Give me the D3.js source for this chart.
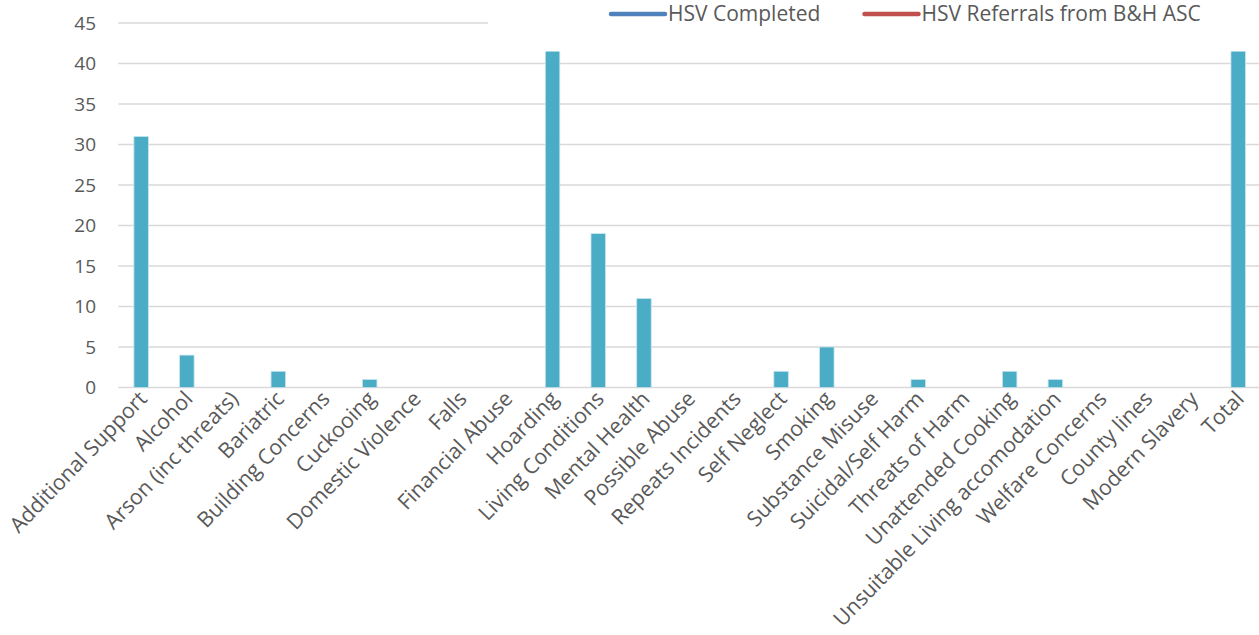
<!DOCTYPE html>
<html>
<head>
<meta charset="utf-8">
<script src="https://cdn.jsdelivr.net/npm/d3@7"></script>
<style>
  html, body { margin: 0; padding: 0; background: #fff; }
  svg { display: block; }
  text { font-family: "Open Sans", "Noto Sans", sans-serif; fill: #595959; }
</style>
</head>
<body>
<svg id="chart" width="1259" height="635"></svg>
<script>
// Incident categories on the x axis
const categories = [
  "Additional Support", "Alcohol", "Arson (inc threats)", "Bariatric",
  "Building Concerns", "Cuckooing", "Domestic Violence", "Falls",
  "Financial Abuse", "Hoarding", "Living Conditions", "Mental Health",
  "Possible Abuse", "Repeats Incidents", "Self Neglect", "Smoking",
  "Substance Misuse", "Suicidal/Self Harm", "Threats of Harm",
  "Unattended Cooking", "Unsuitable Living accomodation", "Welfare Concerns",
  "County lines", "Modern Slavery", "Total"
];

// Count per category (bars)
const counts = [31, 4, 0, 2, 0, 1, 0, 0, 0, 42, 19, 11, 0, 0, 2, 5, 0, 1, 0, 2, 1, 0, 0, 0, 121];

// Line series shown in the legend
const legendNames = ["HSV Completed", "HSV Referrals from B&H ASC"];
const legendColors = ["#4f81bd", "#c0504d"];

// Value axis ticks
const yTicks = [0, 5, 10, 15, 20, 25, 30, 35, 40, 45];

const svg = d3.select("#chart");
const margin = { left: 118.3, top: 23, bottom: 387.5 };
const step = 45.71;

const x = d3.scaleBand()
  .domain(categories)
  .range([margin.left, margin.left + step * categories.length])
  .paddingInner(0)
  .paddingOuter(0);

const y = d3.scaleLinear().domain([0, 45]).range([margin.bottom, margin.top]);

// Plot clip so values above the axis maximum are cut at the top
svg.append("clipPath").attr("id", "plot-clip")
  .append("rect")
  .attr("x", margin.left).attr("y", margin.top)
  .attr("width", 1259 - margin.left).attr("height", margin.bottom - margin.top);

// Gridlines
svg.append("g")
  .selectAll("line")
  .data(yTicks)
  .join("line")
  .attr("x1", margin.left)
  .attr("x2", 1259)
  .attr("y1", d => y(d))
  .attr("y2", d => y(d))
  .attr("stroke", "#d9d9d9")
  .attr("stroke-width", 1.5);

// Y tick labels
const yAxis = d3.axisLeft(y).tickValues(yTicks).tickSize(0).tickPadding(0);
const yg = svg.append("g")
  .attr("transform", `translate(96,0)`)
  .call(yAxis);
yg.select(".domain").remove();
yg.selectAll("text")
  .attr("font-size", 19)
  .attr("fill", "#595959")
  .attr("font-family", "'Open Sans', sans-serif");

// Bars
const barW = 14.5;
svg.append("g")
  .attr("clip-path", "url(#plot-clip)")
  .selectAll("rect")
  .data(categories.map((c, i) => ({ c, v: counts[i] })))
  .join("rect")
  .attr("x", d => x(d.c) + x.bandwidth() / 2 - barW / 2)
  .attr("y", d => y(d.v))
  .attr("width", barW)
  .attr("height", d => y(0) - y(d.v))
  .attr("fill", "#4bacc6")
  .attr("stroke", "#c6e6ee")
  .attr("stroke-width", 0.8);

// Category labels, rotated
svg.append("g")
  .selectAll("text")
  .data(categories)
  .join("text")
  .attr("transform", d => `translate(${x(d) + x.bandwidth() / 2 + 7},${400}) rotate(-46)`)
  .attr("text-anchor", "end")
  .attr("font-size", 21.3)
  .text(d => d);

// Legend (white panel over the top of the plot)
const lg = svg.append("g");
lg.append("rect")
  .attr("x", 488).attr("y", 0)
  .attr("width", 1259 - 488).attr("height", 51.5)
  .attr("fill", "#fff");

const legendX = [611, 864.5];
legendNames.forEach((name, i) => {
  lg.append("line")
    .attr("x1", legendX[i]).attr("x2", legendX[i] + 54)
    .attr("y1", 14).attr("y2", 14)
    .attr("stroke", legendColors[i])
    .attr("stroke-width", 4.5)
    .attr("stroke-linecap", "round");
  lg.append("text")
    .attr("x", legendX[i] + 57)
    .attr("y", 21)
    .attr("font-size", 21)
    .text(name);
});
</script>
</body>
</html>
